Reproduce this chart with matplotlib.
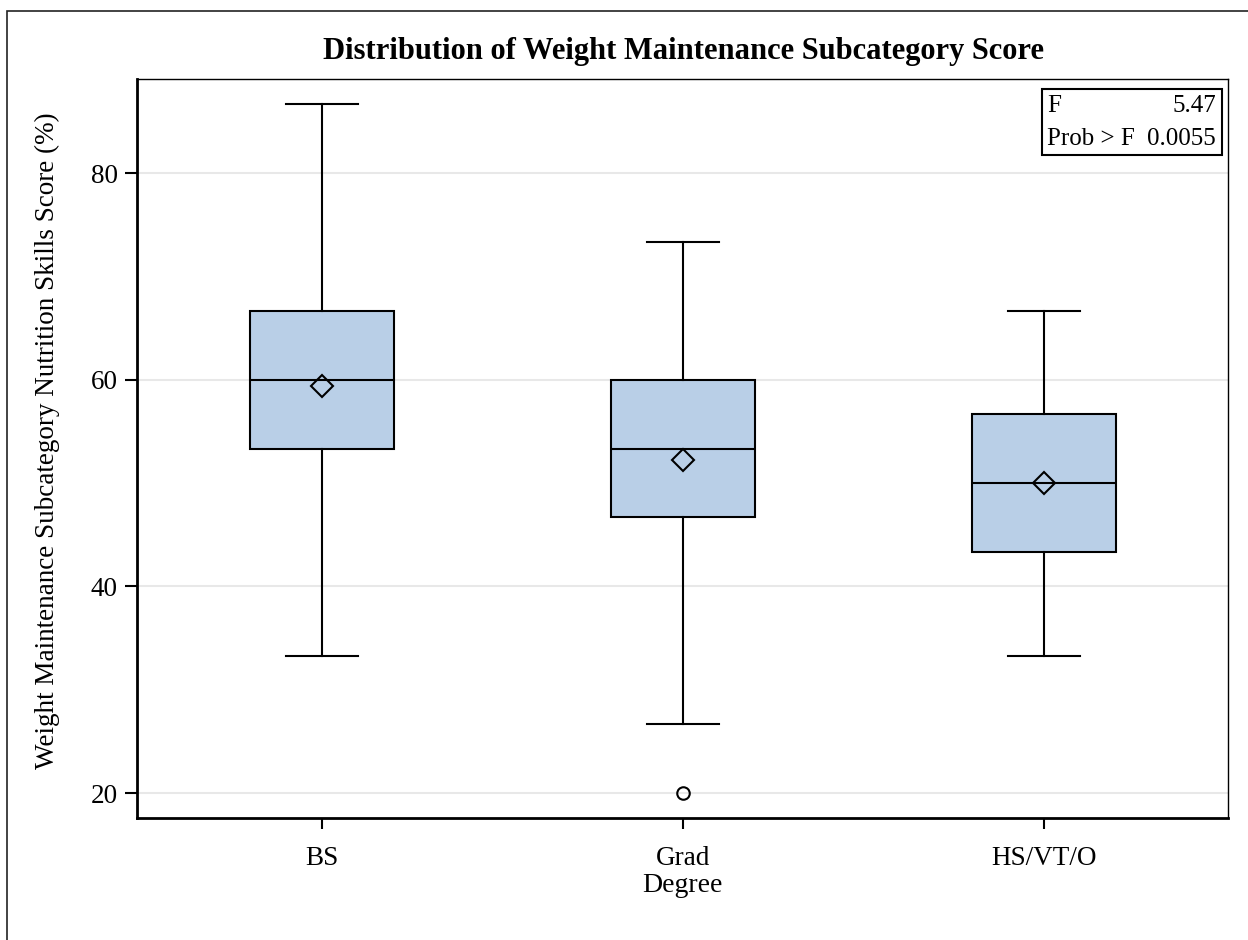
import matplotlib
matplotlib.use("Agg")
import matplotlib.pyplot as plt
from matplotlib.patches import Rectangle

plt.rcParams["font.family"] = ["Liberation Serif", "DejaVu Serif"]

# summary statistics per degree group (percent scores)
groups = ["BS", "Grad", "HS/VT/O"]
q1 = [53.3, 46.7, 43.3]
med = [60.0, 53.3, 50.0]
q3 = [66.7, 60.0, 56.7]
whislo = [33.3, 26.7, 33.3]
whishi = [86.7, 73.3, 66.7]
means = [59.4, 52.2, 50.0]
fliers = [[], [20.0], []]

f_value = "5.47"
p_value = "0.0055"

W, H = 1248, 940
fig = plt.figure(figsize=(W / 100, H / 100), dpi=100)

def px(x, y):
    return x / W, 1 - y / H

ax = fig.add_axes([137 / W, 1 - 818 / H, (1228 - 137) / W, (818 - 79) / H])

stats = [dict(label=g, q1=a, med=m, q3=b, whislo=lo, whishi=hi, mean=mn, fliers=fl)
         for g, a, m, b, lo, hi, mn, fl in zip(groups, q1, med, q3, whislo, whishi, means, fliers)]
ax.bxp(stats, positions=range(len(groups)), widths=0.4, capwidths=0.2,
       showmeans=True, patch_artist=True,
       boxprops=dict(facecolor="#B9CFE7", edgecolor="black", linewidth=1.5),
       medianprops=dict(color="black", linewidth=1.5),
       whiskerprops=dict(color="black", linewidth=1.5),
       capprops=dict(color="black", linewidth=1.5),
       meanprops=dict(marker="D", markerfacecolor="none", markeredgecolor="black",
                      markersize=11, markeredgewidth=1.5),
       flierprops=dict(marker="o", markerfacecolor="none", markeredgecolor="black",
                       markersize=9, markeredgewidth=1.5))

ax.set_xlim(-0.512, 2.51)
ax.set_ylim(17.6, 89.1)
ax.set_yticks([20, 40, 60, 80])
ax.set_xticks(range(len(groups)))
ax.set_xticklabels(groups)
ax.grid(axis="y", color="#E8E8E8", linewidth=1.5)
ax.set_axisbelow(True)
ax.tick_params(axis="both", labelsize=19.5, width=1.5, color="black")
ax.tick_params(axis="y", length=8.5, pad=5.5)
ax.tick_params(axis="x", length=8, pad=12)
for side in ["left", "bottom"]:
    ax.spines[side].set_linewidth(2)
for side in ["top", "right"]:
    ax.spines[side].set_linewidth(1)

ax.set_xlabel("Degree", fontsize=20, va="center")
ax.xaxis.set_label_coords(0.5, (818 - 886) / 739)
ax.set_ylabel("Weight Maintenance Subcategory Nutrition Skills Score (%)", fontsize=19.5, va="center")
ax.yaxis.set_label_coords((47 - 137) / 1091, 0.511)

fig.text(*px(683, 52), "Distribution of Weight Maintenance Subcategory Score",
         ha="center", va="center", fontsize=22, fontweight="bold")

# ANOVA inset
x0, y0 = px(1042, 155)
x1, y1 = px(1222, 89)
fig.add_artist(Rectangle((x0, y0), x1 - x0, y1 - y0, transform=fig.transFigure,
                         facecolor="white", edgecolor="black", linewidth=1.5))
fig.text(*px(1047, 106), "F", ha="left", va="center", fontsize=18)
fig.text(*px(1216, 106), f_value, ha="right", va="center", fontsize=18)
fig.text(*px(1047, 139), "Prob > F", ha="left", va="center", fontsize=18)
fig.text(*px(1216, 139), p_value, ha="right", va="center", fontsize=18)

# outer frame
fx0, fy0 = px(7, 960)
fx1, fy1 = px(1270, 11)
fig.add_artist(Rectangle((fx0, fy0), fx1 - fx0, fy1 - fy0, transform=fig.transFigure,
                         facecolor="none", edgecolor="#222222", linewidth=1.2, clip_on=False))

fig.savefig("out.png", dpi=100)
